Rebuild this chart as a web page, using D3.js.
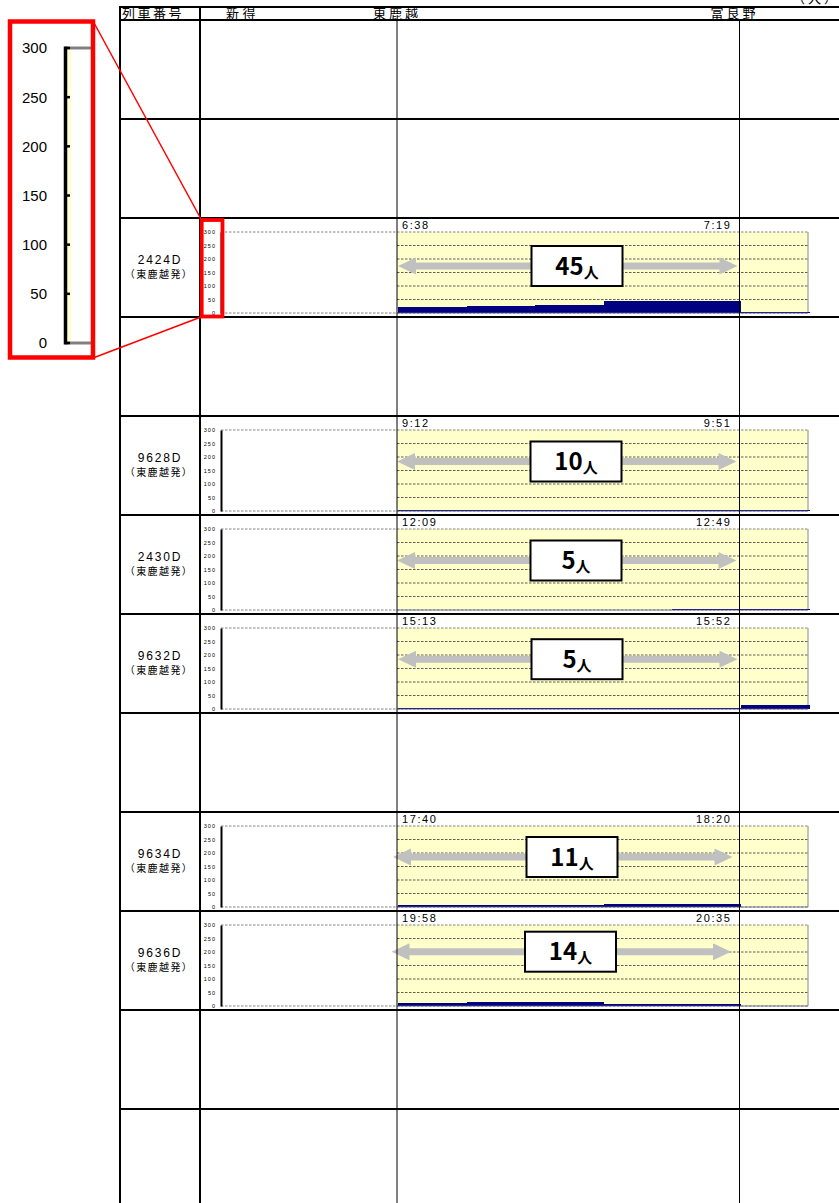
<!DOCTYPE html>
<html><head><meta charset="utf-8">
<script src="https://cdn.jsdelivr.net/npm/d3@7"></script>
<style>body{margin:0;background:#fff}svg{display:block}</style>
</head><body><svg id="c" width="839" height="1203"></svg>
<script>
// ---------------- data ----------------
const headerLabels = ['列車番号', '新得', '東鹿越', '富良野'];
const unitLabel = '（人）';
const segments = ['東鹿越–金山', '金山–下金山', '下金山–山部', '山部–布部', '布部–富良野', '富良野以遠'];
const rowTrains = [null, null, '2424D', null, '9628D', '2430D', '9632D', null, '9634D', '9636D', null, null];
const trains = ['2424D', '9628D', '2430D', '9632D', '9634D', '9636D'];
const originLabel = '（東鹿越発）';
const depTimes = ['6:38', '9:12', '12:09', '15:13', '17:40', '19:58'];
const arrTimes = ['7:19', '9:51', '12:49', '15:52', '18:20', '20:35'];
const passengers = [45, 10, 5, 5, 11, 14];
const load2424D = [22, 26, 30, 45, 45, 3];
const load9628D = [2, 2, 2, 5, 5, 5];
const load2430D = [1, 1, 1, 1, 5, 5];
const load9632D = [2, 2, 2, 2, 2, 15];
const load9634D = [6, 6, 6, 11, 11, 0];
const load9636D = [10, 14, 14, 6, 6, 0];
const yTicks = [0, 50, 100, 150, 200, 250, 300];
const loads = [load2424D, load9628D, load2430D, load9632D, load9634D, load9636D];

// ---------------- layout ----------------
const W = 839, H = 1203;
const tableLeft = 120, col1 = 200, headTop = 7, rowStart = 20, rowH = 99, nRows = 12;
const axisX = 221, plotRight = 808;
const annotDx = [1, 0, 0, 1, -4, -5.5];
const annotDy = [48, 45.5, 45.5, 45.2, 45, 40.7];
const sans = "'Liberation Sans', Arial, sans-serif";
const jp = "'Noto Sans CJK JP', 'Noto Sans', sans-serif";
const rowTop = i => rowStart + rowH * i;

const svg = d3.select('#c');
const x = d3.scaleBand().domain(segments).range([397, plotRight]).paddingInner(0).paddingOuter(0);
const xEast = x(segments[0]);           // 東鹿越
const xFurano = x(segments[segments.length - 1]); // 富良野

// ---------------- charts ----------------
trains.forEach((t, k) => {
  const r = rowTrains.indexOf(t);
  const top = rowTop(r);
  const y = d3.scaleLinear().domain([0, 300]).range([top + 95, top + 14]);
  const g = svg.append('g');

  g.append('rect').attr('x', xEast).attr('y', y(300))
    .attr('width', plotRight - xEast).attr('height', y(0) - y(300)).attr('fill', '#FFFFCC');

  g.selectAll('line.grid').data(yTicks.filter(v => v > 0 && v < 300)).join('line')
    .attr('x1', xEast).attr('x2', plotRight)
    .attr('y1', d => y(d)).attr('y2', d => y(d))
    .attr('stroke', '#333').attr('stroke-width', 0.8).attr('stroke-dasharray', '2.5,1.5');

  g.selectAll('line.frame').data([0, 300]).join('line')
    .attr('x1', axisX).attr('x2', plotRight)
    .attr('y1', d => y(d)).attr('y2', d => y(d))
    .attr('stroke', '#666').attr('stroke-width', 0.8).attr('stroke-dasharray', '2.5,1.5');

  g.append('line').attr('x1', plotRight).attr('x2', plotRight).attr('y1', y(300)).attr('y2', y(0))
    .attr('stroke', '#888').attr('stroke-width', 1);

  g.selectAll('rect.bar').data(loads[k]).join('rect')
    .attr('shape-rendering', 'crispEdges')
    .attr('x', (d, i) => x(segments[i]) + 1).attr('width', x.bandwidth() + 0.5)
    .attr('y', d => y(d)).attr('height', d => y(0) - y(d))
    .attr('fill', '#000080');
  g.append('line').attr('x1', xEast).attr('x2', plotRight).attr('y1', y(0)).attr('y2', y(0))
    .attr('stroke', '#5a5a90').attr('stroke-width', 0.8);

  const ax = g.append('g').attr('transform', `translate(${axisX},0)`)
    .call(d3.axisLeft(y).tickValues(yTicks).tickSize(0).tickPadding(5));
  ax.select('.domain').attr('stroke', '#000').attr('stroke-width', 2);
  ax.selectAll('text').attr('font-size', 5.5).attr('font-family', sans)
    .attr('letter-spacing', 1).attr('fill', '#000');

  // times
  g.append('text').attr('x', xEast + 5).attr('y', top + 11).text(depTimes[k])
    .attr('font-family', sans).attr('font-size', 11).attr('letter-spacing', 1.6);
  g.append('text').attr('x', xFurano - 8).attr('y', top + 11).attr('text-anchor', 'end').text(arrTimes[k])
    .attr('font-family', sans).attr('font-size', 11).attr('letter-spacing', 1.6);

  // arrow
  const cy = top + annotDy[k], dx = annotDx[k];
  const x1 = xEast + dx, x2 = xFurano - 3 + dx, hl = 18, hh = 8.5, sh = 3.5;
  g.append('path').attr('fill', '#C0C0C0')
    .attr('d', `M${x1},${cy} L${x1 + hl},${cy - hh} L${x1 + hl},${cy - sh} L${x2 - hl},${cy - sh} L${x2 - hl},${cy - hh} L${x2},${cy} L${x2 - hl},${cy + hh} L${x2 - hl},${cy + sh} L${x1 + hl},${cy + sh} L${x1 + hl},${cy + hh} Z`);

  const bx = 576 + dx;
  g.append('rect').attr('x', bx - 45.5).attr('y', cy - 20).attr('width', 91).attr('height', 40)
    .attr('fill', '#fff').attr('stroke', '#000').attr('stroke-width', 2);
  const tx = g.append('text').attr('x', bx).attr('y', cy + 8.5).attr('text-anchor', 'middle')
    .attr('font-family', jp).attr('font-weight', 'bold');
  tx.append('tspan').attr('font-size', 24).text(passengers[k]);
  tx.append('tspan').attr('font-size', 15).attr('dy', 3).text('人');

  // row labels
  svg.append('text').attr('x', 160).attr('y', top + 46).attr('text-anchor', 'middle')
    .attr('font-family', sans).attr('font-size', 12).attr('letter-spacing', 1.8).text(t);
  svg.append('text').attr('x', 159).attr('y', top + 60).attr('text-anchor', 'middle')
    .attr('font-family', jp).attr('font-size', 10).attr('letter-spacing', 1.4).text(originLabel);
});

// ---------------- table ----------------
const lines = svg.append('g');
[headTop].concat(d3.range(nRows + 1).map(rowTop)).forEach(yy => {
  if (yy < H) lines.append('line').attr('x1', tableLeft - 1).attr('x2', W).attr('y1', yy).attr('y2', yy)
    .attr('stroke', '#000').attr('stroke-width', 2);
});
[tableLeft, col1].forEach(xx => lines.append('line').attr('x1', xx).attr('x2', xx)
  .attr('y1', headTop - 1).attr('y2', H).attr('stroke', '#000').attr('stroke-width', 2));
[xEast, xFurano].forEach(xx => lines.append('line').attr('x1', xx).attr('x2', xx)
  .attr('y1', rowStart).attr('y2', H).attr('stroke', '#000').attr('stroke-width', 1));

const head = svg.append('g').attr('font-family', jp).attr('font-size', 13);
head.append('text').attr('x', 122).attr('y', 18).attr('letter-spacing', 2.5).text(headerLabels[0]);
head.append('text').attr('x', 226).attr('y', 18).attr('letter-spacing', 3.5).text(headerLabels[1]);
head.append('text').attr('x', xEast - 24).attr('y', 18).attr('letter-spacing', 3).text(headerLabels[2]);
head.append('text').attr('x', xFurano - 29).attr('y', 18).attr('letter-spacing', 3).text(headerLabels[3]);
head.append('text').attr('x', 792).attr('y', 3).attr('letter-spacing', 3).text(unitLabel);

// ---------------- magnified axis callout ----------------
const mag = svg.append('g');
const yMag = d3.scaleLinear().domain([0, 300]).range([343, 48]);
mag.append('rect').attr('x', 67).attr('y', yMag(300)).attr('width', 4.5).attr('height', yMag(0) - yMag(300)).attr('fill', '#FFFFD8');
[300, 0].forEach(v => mag.append('line').attr('x1', 67).attr('x2', 91).attr('y1', yMag(v)).attr('y2', yMag(v))
  .attr('stroke', '#808080').attr('stroke-width', 3));
mag.append('line').attr('x1', 65.5).attr('x2', 65.5).attr('y1', yMag(300) - 1.5).attr('y2', yMag(0) + 1.5)
  .attr('stroke', '#000').attr('stroke-width', 3.5);
mag.selectAll('line.tk').data(yTicks).join('line')
  .attr('x1', 65.5).attr('x2', 70).attr('y1', d => yMag(d)).attr('y2', d => yMag(d))
  .attr('stroke', '#000').attr('stroke-width', 2.5);
mag.selectAll('text').data(yTicks).join('text')
  .attr('x', 47).attr('y', d => yMag(d)).attr('dy', '0.36em').attr('text-anchor', 'end')
  .attr('font-family', sans).attr('font-size', 15).text(d => d);

const red = '#FF0000';
mag.append('rect').attr('x', 10).attr('y', 21.5).attr('width', 83).attr('height', 336)
  .attr('fill', 'none').attr('stroke', red).attr('stroke-width', 4.5);
mag.append('rect').attr('x', 201.7).attr('y', 220).attr('width', 20.8).attr('height', 96.5)
  .attr('fill', 'none').attr('stroke', red).attr('stroke-width', 3.8);
mag.append('line').attr('x1', 93).attr('y1', 21).attr('x2', 201).attr('y2', 219).attr('stroke', red).attr('stroke-width', 1.5);
mag.append('line').attr('x1', 93).attr('y1', 358).attr('x2', 201).attr('y2', 317).attr('stroke', red).attr('stroke-width', 1.5);
</script></body></html>
